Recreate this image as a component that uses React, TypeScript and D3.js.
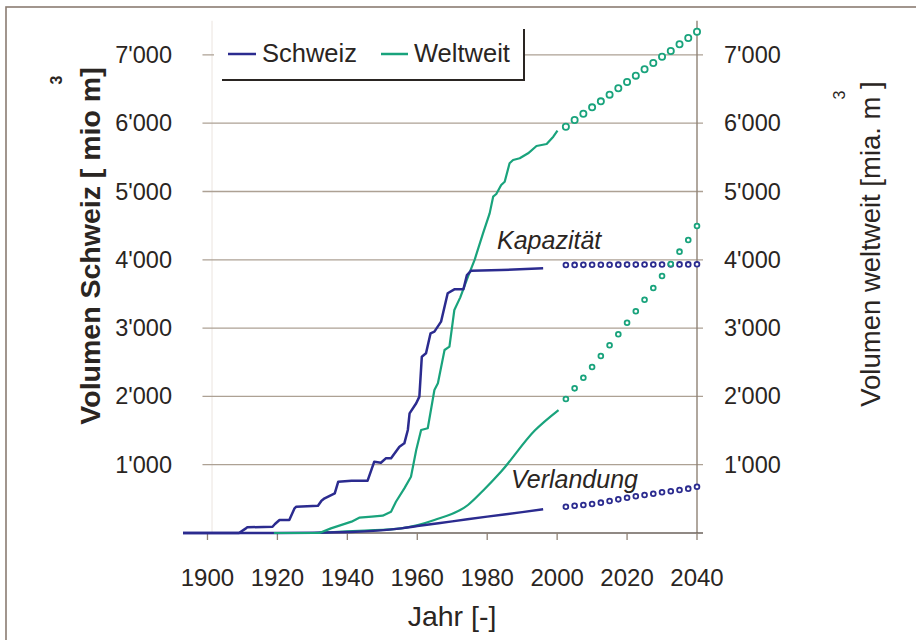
import React from 'react';
import * as d3 from 'd3';

const W = 916;
const H = 640;

const xTicks = [1900, 1920, 1940, 1960, 1980, 2000, 2020, 2040];
const yTicks = [1000, 2000, 3000, 4000, 5000, 6000, 7000];

const schweizKapazitaet: [number, number][] = [
  [1893, 0], [1909, 0], [1911, 68], [1911.4, 83], [1918.6, 92], [1919.3, 132], [1920.6, 190],
  [1923.4, 190], [1924.9, 361], [1925.4, 385], [1931.6, 400], [1932.6, 473], [1933.5, 508],
  [1936.4, 581], [1937.4, 751], [1941.2, 766], [1945.8, 766], [1947.7, 1044], [1949.6, 1029],
  [1951, 1093], [1952.5, 1093], [1954.9, 1264], [1956.3, 1313], [1957.3, 1508], [1957.8, 1752],
  [1959.7, 1899], [1960.6, 1997], [1961.3, 2582], [1962.5, 2631], [1963.8, 2924], [1964.9, 2948],
  [1966.8, 3094], [1968.7, 3510], [1970.6, 3568], [1973.2, 3568], [1974.2, 3777], [1975.4, 3840],
  [1984, 3850], [1996, 3875],
];

const schweizVerlandung: [number, number][] = [
  [1893, 0], [1920, 0], [1941, 15], [1955.4, 68], [1960, 102], [1970, 170], [1980, 240],
  [1990, 305], [1996, 347],
];

const weltweitKapazitaet: [number, number][] = [
  [1919, 0], [1932, 0], [1935.3, 68], [1941.2, 166], [1943.4, 224], [1947, 240], [1950.1, 254],
  [1952.5, 312], [1953.9, 458], [1956.3, 654], [1958.2, 824], [1959.7, 1215], [1961.1, 1508],
  [1963, 1533], [1964.9, 2094], [1965.9, 2192], [1967.8, 2679], [1969.2, 2728], [1970.6, 3265],
  [1972.3, 3450], [1974.5, 3753], [1976.4, 4000], [1978.8, 4387], [1980.7, 4680], [1981.7, 4924],
  [1982.6, 4963], [1984, 5095], [1985, 5143], [1986.4, 5413], [1987.4, 5461], [1989.3, 5486],
  [1991.7, 5559], [1994.1, 5666], [1997, 5695], [1998.9, 5802], [2000.1, 5890],
];

const weltweitVerlandung: [number, number][] = [
  [1919, 0], [1930, 0], [1936.2, 15], [1945, 35], [1955.4, 68], [1964.9, 190], [1974.5, 410],
  [1979, 630], [1984, 900], [1993.6, 1500], [2000.4, 1800],
];

const projectionYears = [
  2002.5, 2005, 2007.5, 2010, 2012.5, 2015, 2017.5, 2020, 2022.5, 2025, 2027.5, 2030, 2032.5,
  2035, 2037.5, 2040,
];
const schweizKapProj = [3924, 3925, 3926, 3927, 3928, 3928, 3929, 3930, 3930, 3931, 3931, 3932, 3932, 3933, 3933, 3934];
const schweizVerlProj = [385, 400, 410, 425, 444, 469, 493, 517, 537, 556, 575, 596, 611, 630, 649, 678];
const weltweitKapProj = [5949, 6047, 6139, 6232, 6320, 6418, 6511, 6603, 6696, 6789, 6882, 6974, 7057, 7155, 7247, 7340];
const weltweitVerlProj = [1962, 2118, 2274, 2430, 2591, 2748, 2909, 3079, 3246, 3416, 3587, 3763, 3938, 4119, 4290, 4495];

const BLUE = '#2b2b8f';
const GREEN = '#19a37c';
const GRID = '#ada194';
const TEXT = '#2a2522';
const FONT = '"Liberation Sans", Arial, sans-serif';

const fmt = d3.formatLocale({ decimal: '.', thousands: "'", grouping: [3], currency: ['', ''] }).format(',');

export default function App() {
  const x = d3.scaleLinear().domain([1893, 2040]).range([183, 697]);
  const y = d3.scaleLinear().domain([0, 7500]).range([533, 20.75]);
  const line = d3.line<[number, number]>().x((d) => x(d[0])).y((d) => y(d[1]));
  const smooth = d3
    .line<[number, number]>()
    .x((d) => x(d[0]))
    .y((d) => y(d[1]))
    .curve(d3.curveMonotoneX);

  const x0 = x(2040);
  const gridLeft = x(1900) - 5;
  const gridRight = x0 + 6;

  const markerSets = [
    { vals: schweizKapProj, color: BLUE, r: 2.4 },
    { vals: schweizVerlProj, color: BLUE, r: 2.4 },
    { vals: weltweitVerlProj, color: GREEN, r: 2.4 },
    { vals: weltweitKapProj, color: GREEN, r: 3.1 },
  ];

  return (
    <svg
      width={W}
      height={H}
      style={{ position: 'absolute', left: 0, top: 0, background: '#fff' }}
      fontFamily={FONT}
    >
      <rect x={0} y={0} width={W} height={H} fill="#fff" />
      {/* outer frame */}
      <rect x={6} y={7} width={W + 40} height={H + 40} fill="none" stroke="#8a7c72" strokeWidth={1.6} />

      {/* faint left axis */}
      <line x1={x(1901.3)} x2={x(1901.3)} y1={y(7500)} y2={y(0)} stroke="#ebe5df" strokeWidth={1} />

      {/* gridlines */}
      {yTicks.map((t) => (
        <line key={t} x1={gridLeft} x2={gridRight} y1={y(t)} y2={y(t)} stroke={GRID} strokeWidth={1.3} />
      ))}

      {/* right axis */}
      <line x1={x0} x2={x0} y1={y(7500)} y2={y(0)} stroke="#8f8275" strokeWidth={1.4} />

      {/* x axis */}
      <line x1={x(1893)} x2={gridRight} y1={y(0)} y2={y(0)} stroke="#6b625b" strokeWidth={1.5} />
      {xTicks.map((t) => (
        <line key={t} x1={x(t)} x2={x(t)} y1={y(0)} y2={y(0) + 7} stroke="#8f8275" strokeWidth={1.3} />
      ))}

      {/* legend */}
      <rect x={214} y={28} width={310} height={52} fill="#fff" />
      <line x1={222} x2={525} y1={80} y2={80} stroke="#2a2522" strokeWidth={2} />
      <line x1={524} x2={524} y1={29} y2={81} stroke="#2a2522" strokeWidth={2} />
      <line x1={228} x2={256} y1={54} y2={54} stroke={BLUE} strokeWidth={2.5} />
      <text x={262} y={62} fontSize={25.5} fill={TEXT}>Schweiz</text>
      <line x1={381} x2={408} y1={54} y2={54} stroke={GREEN} strokeWidth={2.5} />
      <text x={414} y={62} fontSize={25.5} fill={TEXT}>Weltweit</text>

      {/* solid series */}
      <path d={smooth(weltweitVerlandung) || ''} fill="none" stroke={GREEN} strokeWidth={2.2} />
      <path d={smooth(schweizVerlandung) || ''} fill="none" stroke={BLUE} strokeWidth={2.4} />
      <path d={line(weltweitKapazitaet) || ''} fill="none" stroke={GREEN} strokeWidth={2.2} strokeLinejoin="round" />
      <path d={line(schweizKapazitaet) || ''} fill="none" stroke={BLUE} strokeWidth={2.5} strokeLinejoin="round" />

      {/* projections */}
      {markerSets.map((s, i) =>
        s.vals.map((v, j) => (
          <circle
            key={`${i}-${j}`}
            cx={x(projectionYears[j])}
            cy={y(v)}
            r={s.r}
            fill="#fff"
            stroke={s.color}
            strokeWidth={1.8}
          />
        ))
      )}

      {/* annotations */}
      <text x={497} y={249} fontSize={25} fontStyle="italic" fill={TEXT}>Kapazität</text>
      <text x={511} y={488} fontSize={25} fontStyle="italic" fill={TEXT}>Verlandung</text>

      {/* y tick labels */}
      {yTicks.map((t) => (
        <text key={`l${t}`} x={172} y={y(t) + 8} fontSize={23.5} textAnchor="end" fill={TEXT}>
          {fmt(t)}
        </text>
      ))}
      {yTicks.map((t) => (
        <text key={`r${t}`} x={724} y={y(t) + 8} fontSize={23.5} textAnchor="start" fill={TEXT}>
          {fmt(t)}
        </text>
      ))}

      {/* x tick labels */}
      {xTicks.map((t) => (
        <text key={`x${t}`} x={x(t)} y={586} fontSize={24} textAnchor="middle" fill={TEXT}>
          {t}
        </text>
      ))}

      {/* axis titles */}
      <text x={452} y={626} fontSize={28.5} textAnchor="middle" fill={TEXT}>Jahr [-]</text>

      <text
        transform="translate(100,246) rotate(-90)"
        fontSize={28.5}
        fontWeight="bold"
        textAnchor="middle"
        fill={TEXT}
      >
        Volumen Schweiz [ mio m]
      </text>
      <text x={56} y={86} fontSize={16} fontWeight="bold" textAnchor="middle" fill={TEXT} transform="rotate(-90,56,80)">3</text>

      <text
        transform="translate(880,244) rotate(-90)"
        fontSize={27.5}
        textAnchor="middle"
        fill={TEXT}
      >
        Volumen weltweit [mia. m ]
      </text>
      <text x={839} y={101} fontSize={16} textAnchor="middle" fill={TEXT} transform="rotate(-90,839,95)">3</text>
    </svg>
  );
}
